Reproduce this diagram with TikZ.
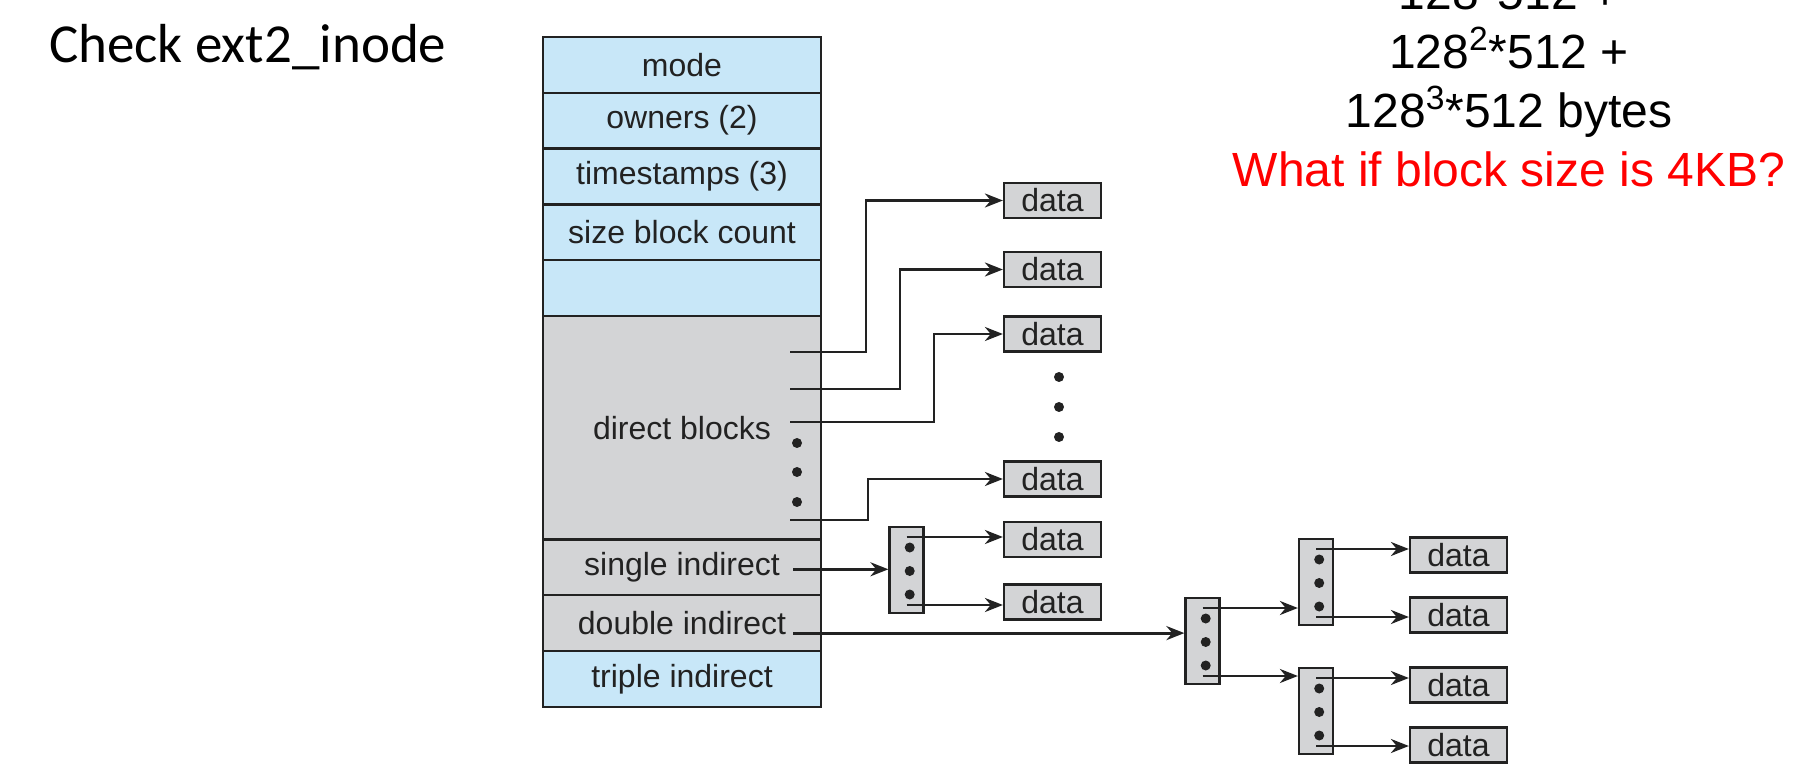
\documentclass[tikz,border=0pt]{standalone}
\usepackage{fontspec}
\setmainfont{Liberation Sans}
\newfontfamily\calibri{Carlito}
\usetikzlibrary{arrows.meta,positioning}

\definecolor{inodeblue}{HTML}{C8E7F8}
\definecolor{blockgray}{HTML}{D3D4D6}
\definecolor{inkgray}{HTML}{222222}

\tikzset{
  field/.style={draw=inkgray,line width=1.2pt,minimum width=139pt,minimum height=27.9pt,
    inner sep=0pt,outer sep=0pt,font=\fontsize{16}{18}\selectfont,text=inkgray},
  bluefield/.style={field,fill=inodeblue},
  grayfield/.style={field,fill=blockgray},
  databox/.style={draw=inkgray,line width=1.1pt,fill=blockgray,minimum width=48.5pt,
    minimum height=17.5pt,inner sep=0pt,font=\fontsize{16}{18}\selectfont,text=inkgray},
  indexbox/.style={draw=inkgray,line width=1.1pt,fill=blockgray,minimum width=17pt,
    minimum height=43pt,inner sep=0pt},
  ptr/.style={draw=inkgray,line width=1.4pt,-{Stealth[length=9pt,width=7pt]}},
  bullet/.style={circle,fill=inkgray,inner sep=0pt,minimum size=5pt},
}

\begin{document}
\begin{tikzpicture}[x=0.5pt,y=-0.5pt]
  \useasboundingbox (0,0) rectangle (1797,769);

  \node[anchor=base west,font=\calibri\fontsize{27.5}{33}\selectfont] (title) at (42,63) {Check ext2\_inode};

  % sizes
  \node[anchor=base,font=\fontsize{24}{28}\selectfont] (sum1) at (1509,10) {128*512 +};
  \node[anchor=base,font=\fontsize{24}{28}\selectfont] (sum2) at (1509,69) {128\textsuperscript{2}*512 +};
  \node[anchor=base,font=\fontsize{24}{28}\selectfont] (sum3) at (1509,128) {128\textsuperscript{3}*512 bytes};
  \node[anchor=base,font=\fontsize{24}{28}\selectfont,text=red] (quest) at (1509,187) {What if block size is 4KB?};

  % inode
  \node[bluefield] (mode) at (682,64.9) {mode};
  \node[bluefield,below=0pt of mode] (owners) {owners (2)};
  \node[bluefield,below=0pt of owners] (stamps) {timestamps (3)};
  \node[bluefield,below=0pt of stamps] (size) {size block count};
  \node[bluefield,below=0pt of size] (spare) {};
  \node[grayfield,minimum height=111.7pt,below=0pt of spare] (direct) {direct blocks};
  \node[grayfield,below=0pt of direct] (single) {single indirect};
  \node[grayfield,below=0pt of single] (double) {double indirect};
  \node[bluefield,below=0pt of double] (triple) {triple indirect};

  \foreach \k/\dy in {1/-63.5,2/-78,3/-93}
    \node[bullet] (dd\k) at ([xshift=-12pt,yshift=\dy pt]direct.north east) {};

  % data blocks
  \foreach \i/\y in {1/200.5,2/269.5,3/334,4/479,5/539.5,6/602}
    \node[databox] (d\i) at (1052.5,\y) {data};
  \foreach \i/\y in {1/555,2/615,3/685,4/745}
    \node[databox] (r\i) at (1458.5,\y) {data};
  \foreach \k/\y in {1/377,2/407,3/437}
    \node[bullet] (gap\k) at (1059,\y) {};

  % index blocks
  \node[indexbox] (ib1) at (906.5,570) {};
  \node[indexbox] (ib2) at (1202.5,641) {};
  \node[indexbox] (ib3) at (1316,582) {};
  \node[indexbox] (ib4) at (1316,711) {};
  \foreach \b in {ib1,ib2,ib3,ib4}
    \foreach \k/\dy in {1/11.25,2/-0.5,3/-12.25}
      \node[bullet] (\b-dot\k) at ([xshift=1.6pt,yshift=\dy pt]\b.center) {};

  % direct pointers
  \foreach \i/\dy/\bx in {1/-18/76,2/-36.5/110,3/-53/144,4/-102/78} {
    \coordinate (dp\i) at ([xshift=-15.5pt,yshift=\dy pt]direct.north east);
    \draw[ptr] (dp\i) -- ++(\bx,0) |- (d\i.west);
  }

  % indirect pointers
  \coordinate (sp) at ([xshift=-14pt,yshift=-1pt]single.east);
  \coordinate (dbp) at ([xshift=-14pt,yshift=-5pt]double.east);
  \draw[ptr] (sp) -- (sp -| ib1.west);
  \draw[ptr] (dbp) -- (dbp -| ib2.west);

  \foreach \b/\up/\dn in {ib1/d5/d6,ib2/ib3/ib4,ib3/r1/r2,ib4/r3/r4} {
    \coordinate (\b-a) at ([yshift=16.5pt]\b.center);
    \coordinate (\b-b) at ([yshift=-17.5pt]\b.center);
    \draw[ptr] (\b-a) -- (\b-a -| \up.west);
    \draw[ptr] (\b-b) -- (\b-b -| \dn.west);
  }
\end{tikzpicture}
\end{document}
